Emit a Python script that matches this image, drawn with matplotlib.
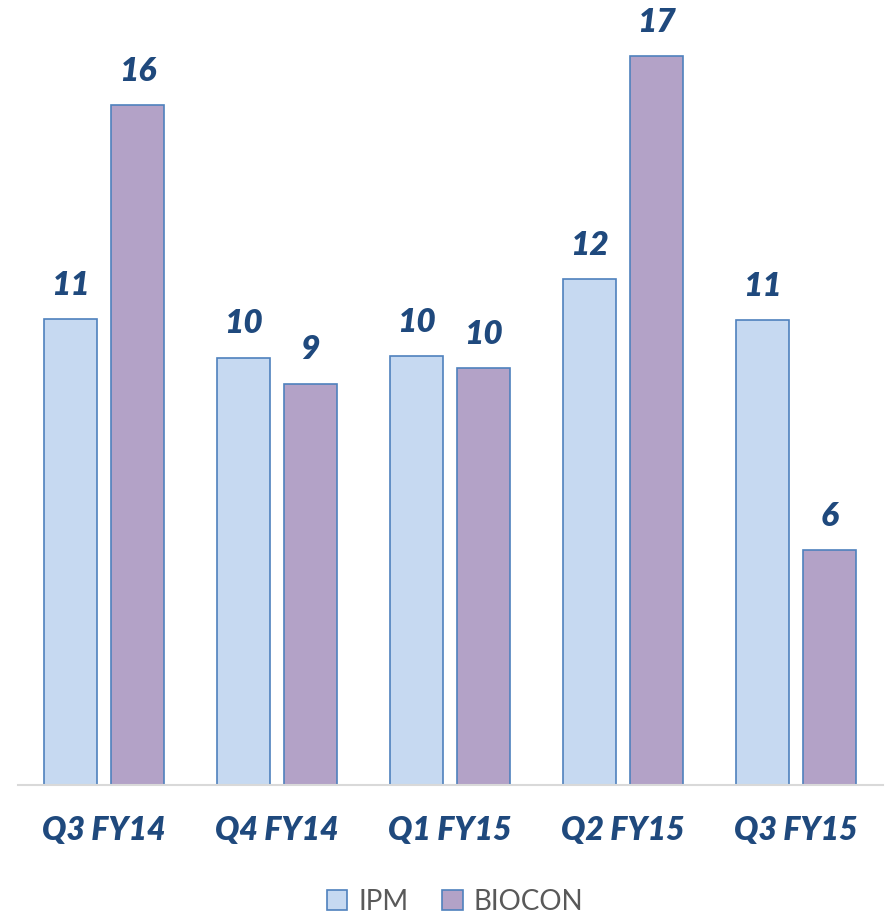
import numpy as np
import matplotlib.pyplot as plt

quarters = ['Q3 FY14', 'Q4 FY14', 'Q1 FY15', 'Q2 FY15', 'Q3 FY15']
ipm = [10.96, 10.05, 10.09, 11.9, 10.94]
biocon = [16.0, 9.44, 9.81, 17.15, 5.53]

fig = plt.figure(figsize=(8.85, 9.17), dpi=100)
ax = fig.add_axes([17.5 / 885, 1 - 785 / 917, 865 / 885, 765 / 917])

x = np.arange(len(quarters))
w = 0.306
off = 0.192
edge = '#4F81BD'
lab_color = '#1F497D'

b1 = ax.bar(x - off, ipm, w, color='#C6D9F1', edgecolor=edge, linewidth=1.2, label='IPM')
b2 = ax.bar(x + off, biocon, w, color='#B3A2C7', edgecolor=edge, linewidth=1.2, label='BIOCON')

for bars, vals in ((b1, ipm), (b2, biocon)):
    for rect, v in zip(bars, vals):
        ax.annotate(f'{v:.0f}', (rect.get_x() + rect.get_width() / 2, v),
                    xytext=(0, 14), textcoords='offset points',
                    ha='center', va='bottom', fontsize=24,
                    fontfamily='Lato', fontweight='heavy', fontstyle='italic',
                    color=lab_color)

ax.set_xlim(-0.5, len(quarters) - 0.5)
ax.set_ylim(0, 18)
ax.set_xticks(x)
ax.set_xticklabels(quarters, fontsize=23, fontfamily='Lato', fontweight='heavy',
                   fontstyle='italic', color=lab_color)
ax.tick_params(axis='x', length=0, pad=22)
ax.set_yticks([])
for s in ['top', 'right', 'left']:
    ax.spines[s].set_visible(False)
ax.spines['bottom'].set_color('#D9D9D9')
ax.spines['bottom'].set_linewidth(1.5)

leg = fig.legend(loc='center', bbox_to_anchor=(455 / 885, 1 - 902 / 917), ncol=2,
                 frameon=False, prop={'family': 'Lato', 'size': 20},
                 handlelength=0.75, handleheight=0.75, handletextpad=0.4,
                 columnspacing=1.2, labelcolor='#595959')

fig.savefig('out.png', dpi=100)
